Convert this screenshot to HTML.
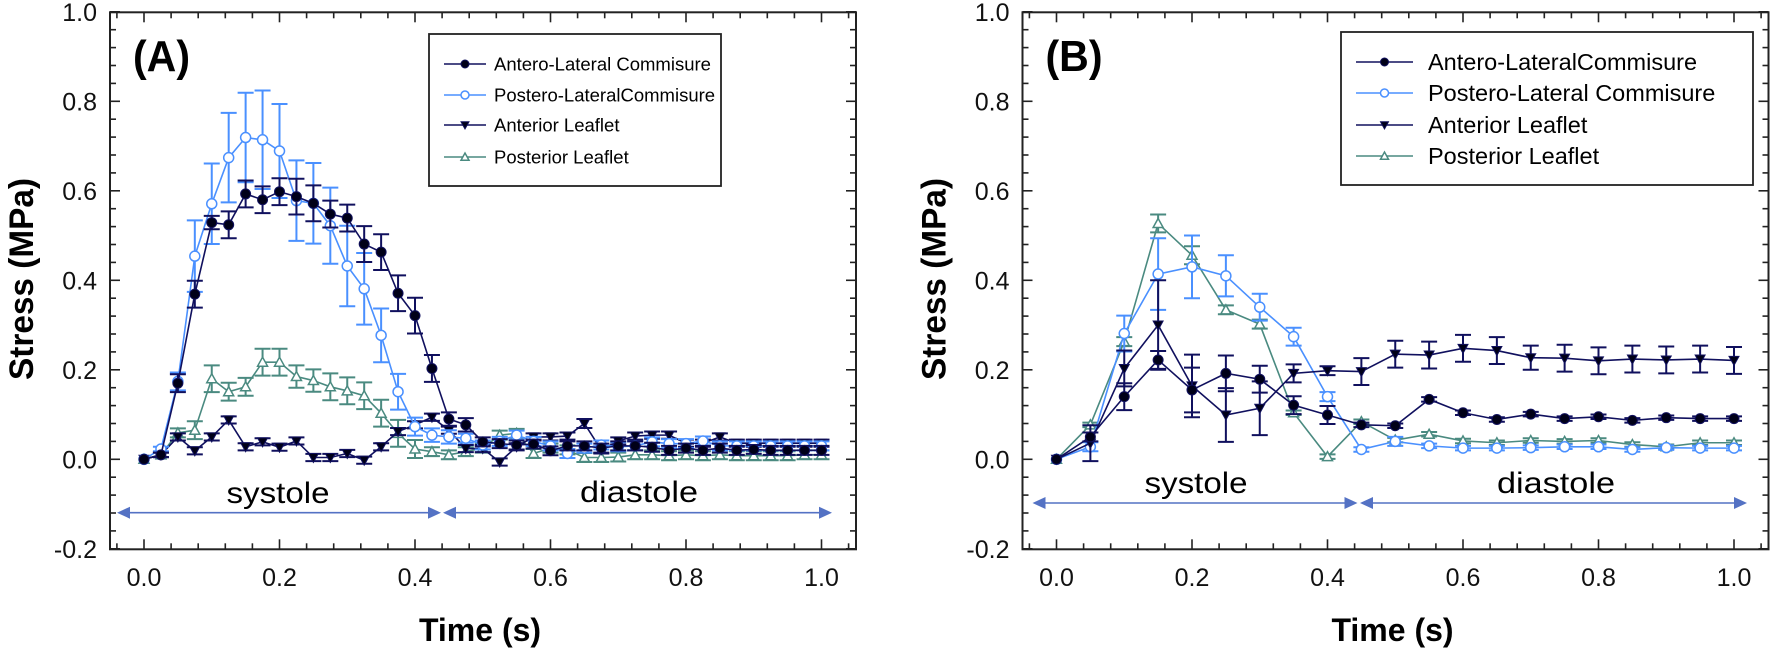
<!DOCTYPE html>
<html><head><meta charset="utf-8"><style>
html,body{margin:0;padding:0;background:#fff;}
svg{display:block;font-family:"Liberation Sans",Arial,sans-serif;}
</style></head><body>
<svg id="chart" width="1772" height="650" viewBox="0 0 1772 650" xmlns="http://www.w3.org/2000/svg"></svg>
<script>
// ---- Panel A data (t step 0.025) ----
const tA = Array.from({length:41},(_,i)=>+(i*0.025).toFixed(3));
const A_alc = [0,0.01,0.17,0.369,0.529,0.524,0.593,0.58,0.598,0.587,0.572,0.548,0.539,0.481,0.463,0.371,0.321,0.203,0.09,0.077,0.039,0.035,0.032,0.034,0.019,0.03,0.03,0.025,0.03,0.03,0.027,0.02,0.025,0.02,0.025,0.02,0.022,0.02,0.02,0.02,0.02];
const A_alc_err = [0,0.005,0.02,0.03,0.015,0.03,0.03,0.03,0.03,0.04,0.04,0.03,0.03,0.04,0.04,0.04,0.04,0.03,0.015,0.015,0.01,0.01,0.01,0.01,0.01,0.01,0.01,0.01,0.01,0.01,0.01,0.01,0.01,0.01,0.01,0.01,0.01,0.01,0.01,0.01,0.01];
const A_plc = [0,0.023,0.174,0.454,0.571,0.674,0.719,0.714,0.689,0.578,0.572,0.522,0.432,0.381,0.277,0.151,0.073,0.054,0.05,0.047,0.032,0.04,0.054,0.04,0.03,0.013,0.025,0.032,0.028,0.03,0.039,0.035,0.035,0.041,0.03,0.03,0.03,0.03,0.03,0.03,0.03];
const A_plc_err = [0,0.005,0.02,0.08,0.09,0.1,0.1,0.11,0.105,0.09,0.09,0.085,0.09,0.08,0.06,0.04,0.02,0.015,0.015,0.01,0.01,0.01,0.01,0.01,0.01,0.01,0.01,0.01,0.01,0.01,0.01,0.01,0.01,0.01,0.01,0.01,0.01,0.01,0.01,0.01,0.01];
const A_pl = [0,0.01,0.059,0.065,0.18,0.151,0.162,0.217,0.217,0.185,0.176,0.162,0.153,0.142,0.103,0.058,0.023,0.017,0.01,0.017,0.025,0.054,0.058,0.013,0.025,0.021,0.004,0.004,0.005,0.01,0.01,0.008,0.01,0.008,0.01,0.008,0.008,0.008,0.008,0.01,0.01];
const A_pl_err = [0,0.005,0.01,0.02,0.03,0.02,0.02,0.03,0.03,0.025,0.025,0.03,0.03,0.03,0.03,0.03,0.02,0.01,0.01,0.01,0.01,0.01,0.01,0.01,0.01,0.01,0.01,0.01,0.01,0.01,0.01,0.01,0.01,0.01,0.01,0.01,0.01,0.01,0.01,0.01,0.01];
const A_al = [0,0.01,0.05,0.019,0.05,0.088,0.028,0.039,0.027,0.041,0.004,0.004,0.013,-0.002,0.028,0.062,0.077,0.094,0.065,0.024,0.024,-0.006,0.028,0.05,0.05,0.052,0.08,0.021,0.041,0.052,0.054,0.054,0.036,0.036,0.05,0.036,0.036,0.036,0.036,0.036,0.036];
const A_al_err = [0,0.005,0.008,0.008,0.008,0.008,0.008,0.008,0.008,0.008,0.008,0.008,0.008,0.008,0.008,0.008,0.008,0.008,0.008,0.008,0.008,0.008,0.008,0.008,0.008,0.008,0.01,0.008,0.008,0.008,0.008,0.008,0.008,0.008,0.008,0.008,0.008,0.008,0.008,0.008,0.008];
// ---- Panel B data (t step 0.05) ----
const tB = Array.from({length:21},(_,i)=>+(i*0.05).toFixed(3));
const B_alc = [0,0.05,0.14,0.222,0.155,0.192,0.179,0.121,0.099,0.077,0.075,0.134,0.104,0.089,0.101,0.091,0.095,0.087,0.093,0.091,0.091];
const B_alc_err = [0,0.01,0.03,0.02,0.05,0.04,0.03,0.02,0.02,0.005,0.005,0.005,0.005,0.005,0.005,0.005,0.005,0.005,0.005,0.005,0.005];
const B_plc = [0,0.028,0.281,0.414,0.43,0.41,0.34,0.274,0.14,0.022,0.04,0.03,0.025,0.025,0.026,0.028,0.028,0.022,0.026,0.025,0.025];
const B_plc_err = [0,0.01,0.04,0.08,0.07,0.046,0.03,0.02,0.01,0.005,0.01,0.005,0.005,0.005,0.005,0.005,0.005,0.005,0.005,0.005,0.005];
const B_pl = [0,0.077,0.263,0.527,0.456,0.334,0.302,0.104,0.006,0.084,0.043,0.056,0.041,0.037,0.042,0.04,0.042,0.033,0.028,0.037,0.037];
const B_pl_err = [0,0.005,0.01,0.02,0.02,0.01,0.01,0.005,0.005,0.005,0.005,0.005,0.005,0.005,0.005,0.005,0.005,0.005,0.005,0.005,0.005];
const B_al = [0,0.036,0.203,0.3,0.164,0.099,0.114,0.192,0.198,0.196,0.235,0.233,0.248,0.243,0.227,0.226,0.22,0.224,0.222,0.224,0.221];
const B_al_err = [0,0.04,0.04,0.1,0.07,0.06,0.06,0.02,0.01,0.03,0.03,0.03,0.03,0.03,0.027,0.03,0.03,0.03,0.03,0.03,0.03];
const yTicks = ["-0.2","0.0","0.2","0.4","0.6","0.8","1.0"];
const xTicks = ["0.0","0.2","0.4","0.6","0.8","1.0"];

const NS="http://www.w3.org/2000/svg";
const svg=document.getElementById('chart');
const DARK="#10105e", LIGHT="#4a90ff", GREEN="#4a8a80", ARROW="#5472c4";
function mk(tag,attrs,parent){const e=document.createElementNS(NS,tag);for(const k in attrs)e.setAttribute(k,attrs[k]);(parent||svg).appendChild(e);return e;}
const Y=v=>459.3-v*447.5;

function panel(ox,label,series,legendRows,legendBox,arrow,phaseText){
  const g=mk('g',{});
  
  
  const X=t=>144+ox+t*677.5;
  const L=110+ox,R=856+ox,T=12.3,B=549.3;
  const tg=mk('g',{stroke:"#222","stroke-width":1.6},g);
  
  
  for(let k=0;k<=30;k++){const v=-0.2+k*0.04;const y=Y(v);const maj=k%5===0;const len=maj?10:6;
    mk('line',{x1:L,y1:y,x2:L+len,y2:y},tg);mk('line',{x1:R,y1:y,x2:R-len,y2:y},tg);}
  for(let k=-1;k<=26;k++){const t=k*0.04;const x=X(t);if(x<L+1||x>R-1)continue;const maj=k%5===0;const len=maj?10:6;
    mk('line',{x1:x,y1:B,x2:x,y2:B-len},tg);mk('line',{x1:x,y1:T,x2:x,y2:T+len},tg);}
  const fr=mk('rect',{x:L,y:T,width:R-L,height:B-T,fill:"none",stroke:"#222","stroke-width":2},g);
  
  
  yTicks.forEach((s,i)=>{const v=-0.2+i*0.2;const e=mk('text',{x:97+ox,y:Y(v)+9,"text-anchor":"end","font-size":25,fill:"#111"},g);e.textContent=s;
    
    });
  xTicks.forEach((s,i)=>{const e=mk('text',{x:X(i*0.2),y:586,"text-anchor":"middle","font-size":25,fill:"#111"},g);e.textContent=s;
    
    });
  const yt=mk('text',{x:0,y:0,transform:`translate(${33+ox},279) rotate(-90)`,"text-anchor":"middle","font-size":34,"font-weight":"bold",textLength:202,lengthAdjust:"spacingAndGlyphs",fill:"#000"},g);
  yt.textContent="Stress (MPa)";
  
  
  const xt=mk('text',{x:480+ox,y:641,"text-anchor":"middle","font-size":32,"font-weight":"bold",fill:"#000"},g);
  xt.textContent="Time (s)";
  
  
  const pl=mk('text',{x:133+ox,y:71,"font-size":44,"font-weight":"bold",textLength:57,lengthAdjust:"spacingAndGlyphs",fill:"#000"},g);
  pl.textContent=label;
  
  
  const ag=mk('g',{fill:ARROW,stroke:ARROW},g);
  
  
  const ay=arrow.y;
  [[arrow.a,arrow.b],[arrow.c,arrow.d]].forEach(([x1,x2])=>{
    mk('line',{x1:x1+10,y1:ay,x2:x2-10,y2:ay,"stroke-width":1.6},ag);
    mk('polygon',{points:`${x1},${ay} ${x1+13},${ay-6} ${x1+13},${ay+6}`,stroke:"none"},ag);
    mk('polygon',{points:`${x2},${ay} ${x2-13},${ay-6} ${x2-13},${ay+6}`,stroke:"none"},ag);
  });
  phaseText.forEach(p=>{const e=mk('text',{x:p.x,y:p.y,"text-anchor":"middle","font-size":30,textLength:p.w,lengthAdjust:"spacingAndGlyphs",fill:"#000"},g);e.textContent=p.s;
    
    });
  series.forEach(s=>{
    const sg=mk('g',{},g);
    
    
    s.v.forEach((v,i)=>{const x=X(s.t[i]);const e=s.e[i];if(!e)return;
      const y1=Y(v+e),y2=Y(v-e);
      mk('path',{d:`M${x},${y1}V${y2}M${x-8},${y1}H${x+8}M${x-8},${y2}H${x+8}`,stroke:s.c,"stroke-width":2,fill:"none"},sg);});
    mk('polyline',{points:s.v.map((v,i)=>X(s.t[i])+','+Y(v)).join(' '),fill:"none",stroke:s.c,"stroke-width":1.6},sg);
    s.v.forEach((v,i)=>{drawMarker(sg,s.m,X(s.t[i]),Y(v),s.c,5);});
  });
  const lg=mk('g',{},g);
  
  
  mk('rect',{x:legendBox.x+ox,y:legendBox.y,width:legendBox.w,height:legendBox.h,fill:"#fff",stroke:"#222","stroke-width":1.8},lg);
  legendRows.forEach((r,i)=>{const y=legendBox.rows[i];const lx=legendBox.x+ox+legendBox.pad;
    const eg=mk('g',{},lg);
    
    
    mk('line',{x1:lx,y1:y,x2:lx+legendBox.ll,y2:y,stroke:r.c,"stroke-width":1.6},eg);
    drawMarker(eg,r.m,lx+legendBox.ll/2,y,r.c,4);
    const t=mk('text',{x:lx+legendBox.tx,y:y+legendBox.fs*0.35,"font-size":legendBox.fs,fill:"#000"},eg);t.textContent=r.s;});
}
function drawMarker(p,m,x,y,c,r){
  if(m==='fc')mk('circle',{cx:x,cy:y,r:r,fill:"#000018",stroke:c,"stroke-width":1},p);
  else if(m==='oc')mk('circle',{cx:x,cy:y,r:r,fill:"#fff",stroke:c,"stroke-width":1.5},p);
  else if(m==='td')mk('polygon',{points:`${x-r},${y-r*0.8} ${x+r},${y-r*0.8} ${x},${y+r}`,fill:"#000018",stroke:c,"stroke-width":1},p);
  else mk('polygon',{points:`${x-r},${y+r*0.8} ${x+r},${y+r*0.8} ${x},${y-r}`,fill:"#fff",stroke:c,"stroke-width":1.5},p);
}
panel(0,"(A)",[
  {key:'posterior-leaflet',t:tA,v:A_pl,e:A_pl_err,c:GREEN,m:'tu'},
  {key:'anterior-leaflet',t:tA,v:A_al,e:A_al_err,c:DARK,m:'td'},
  {key:'postero-lateral',t:tA,v:A_plc,e:A_plc_err,c:LIGHT,m:'oc'},
  {key:'antero-lateral',t:tA,v:A_alc,e:A_alc_err,c:DARK,m:'fc'}],
  [{s:"Antero-Lateral Commisure",c:DARK,m:'fc'},{s:"Postero-LateralCommisure",c:LIGHT,m:'oc'},{s:"Anterior Leaflet",c:DARK,m:'td'},{s:"Posterior Leaflet",c:GREEN,m:'tu'}],
  {x:429,y:34,w:292,h:152,rows:[64,95,125,157],pad:15,ll:42,tx:50,fs:18.5},
  {y:512.7,a:117,b:441,c:443,d:832},
  [{s:"systole",x:278,y:503,w:103},{s:"diastole",x:639,y:502,w:118}]);
panel(912.5,"(B)",[
  {key:'posterior-leaflet',t:tB,v:B_pl,e:B_pl_err,c:GREEN,m:'tu'},
  {key:'postero-lateral',t:tB,v:B_plc,e:B_plc_err,c:LIGHT,m:'oc'},
  {key:'anterior-leaflet',t:tB,v:B_al,e:B_al_err,c:DARK,m:'td'},
  {key:'antero-lateral',t:tB,v:B_alc,e:B_alc_err,c:DARK,m:'fc'}],
  [{s:"Antero-LateralCommisure",c:DARK,m:'fc'},{s:"Postero-Lateral Commisure",c:LIGHT,m:'oc'},{s:"Anterior Leaflet",c:DARK,m:'td'},{s:"Posterior Leaflet",c:GREEN,m:'tu'}],
  {x:428.5,y:32,w:412,h:153,rows:[62,93,125,156],pad:15,ll:57,tx:72,fs:23.5},
  {y:503,a:1032.5,b:1357.5,c:1360,d:1747},
  [{s:"systole",x:1196,y:493,w:103},{s:"diastole",x:1556,y:493,w:118}]);
</script>
</body></html>
